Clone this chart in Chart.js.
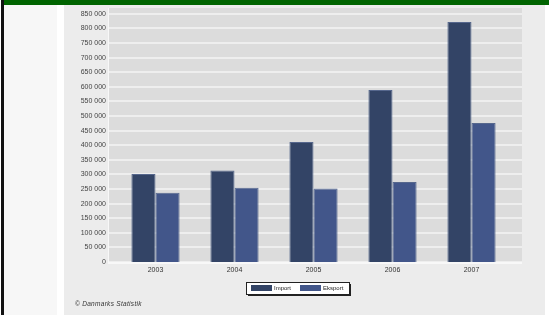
<!DOCTYPE html>
<html>
<head>
<meta charset="utf-8">
<script src="https://cdn.jsdelivr.net/npm/chart.js@4"></script>
<style>
  html, body { margin: 0; padding: 0; }
  body { width: 549px; height: 315px; position: relative; overflow: hidden; background: #fff; font-family: "Liberation Sans", Arial, sans-serif; }
  #leftline { position: absolute; left: 1px; top: 0; width: 3px; height: 315px; background: #111; }
  #topbar { position: absolute; left: 4px; top: 0; width: 545px; height: 5px; background: #006400; }
  #side { position: absolute; left: 4px; top: 5px; width: 53px; height: 310px; background: #f7f7f7; }
  #panel { position: absolute; left: 64px; top: 5px; width: 481px; height: 310px; background: #ececec; }
  #chart { position: absolute; left: 0; top: 0; }
  #source { position: absolute; left: 75px; top: 300px; font-size: 6.5px; letter-spacing: 0.3px; font-style: italic; color: #333; }
</style>
</head>
<body>
<div id="leftline"></div>
<div id="topbar"></div>
<div id="side"></div>
<div id="panel"></div>
<canvas id="chart" width="549" height="315"></canvas>
<div id="source">© Danmarks Statistik</div>
<script>
const years   = ["2003", "2004", "2005", "2006", "2007"]
const imports = [301000, 313000, 411000, 589000, 822000]
const exports = [237000, 254000, 252000, 274000, 476000]
const yTicks  = [0, 50000, 100000, 150000, 200000, 250000, 300000, 350000, 400000,
                 450000, 500000, 550000, 600000, 650000, 700000, 750000, 800000, 850000]

// the grey plot panel reaches a bit past the category band on both sides
const PANEL_LEFT = 8, PANEL_RIGHT = 11

const plotBackground = {
  id: "plotBackground",
  beforeDatasetsDraw(chart) {
    const { ctx, chartArea: a, scales } = chart
    const left = a.left - PANEL_LEFT, right = a.right + PANEL_RIGHT
    ctx.save()
    ctx.fillStyle = "#dcdcdc"
    ctx.fillRect(left, a.top, right - left, a.bottom - a.top)
    ctx.strokeStyle = "#f4f4f4"
    ctx.lineWidth = 1.5
    scales.y.ticks.forEach((t) => {
      const y = Math.round(scales.y.getPixelForValue(t.value))
      ctx.beginPath()
      ctx.moveTo(left, y)
      ctx.lineTo(right, y)
      ctx.stroke()
    })
    ctx.strokeStyle = "#f8f8f8"
    ctx.lineWidth = 1
    ctx.beginPath()
    ctx.moveTo(left + 0.5, a.top)
    ctx.lineTo(left + 0.5, a.bottom)
    ctx.stroke()
    ctx.lineWidth = 2
    ctx.beginPath()
    ctx.moveTo(left, a.bottom + 1)
    ctx.lineTo(right, a.bottom + 1)
    ctx.stroke()
    ctx.restore()
  },
}

// boxed legend below the plot, with a small drop shadow
const boxLegend = {
  id: "boxLegend",
  afterDraw(chart) {
    const { ctx } = chart
    const x = 246, y = 282, w = 103, h = 12
    ctx.save()
    ctx.fillStyle = "#222"
    ctx.fillRect(x + 2, y + 2, w, h)
    ctx.fillStyle = "#fff"
    ctx.fillRect(x, y, w, h)
    ctx.strokeStyle = "#222"
    ctx.lineWidth = 1
    ctx.strokeRect(x + 0.5, y + 0.5, w, h)
    ctx.font = "6px 'Liberation Sans', Arial, sans-serif"
    ctx.textBaseline = "middle"
    let cx = x + 5
    chart.data.datasets.forEach((ds) => {
      ctx.fillStyle = ds.backgroundColor
      ctx.fillRect(cx, y + 3, 21, 6)
      ctx.fillStyle = "#222"
      ctx.fillText(ds.label, cx + 23, y + 6.5)
      cx += 49
    })
    ctx.restore()
  },
}

new Chart(document.getElementById("chart"), {
  type: "bar",
  data: {
    labels: years,
    datasets: [
      { label: "Import",  data: imports, backgroundColor: "#334466", borderColor: "#56678d", borderWidth: 1 },
      { label: "Eksport", data: exports, backgroundColor: "#42568a", borderColor: "#56678d", borderWidth: 1 },
    ],
  },
  options: {
    responsive: false,
    animation: false,
    layout: { padding: { left: 0, top: 8, right: 38, bottom: 39 } },
    datasets: { bar: { categoryPercentage: 0.61, barPercentage: 1.0 } },
    scales: {
      x: {
        afterFit: (s) => { s.height = 14 },
        grid: { display: false, drawTicks: false },
        border: { display: false },
        ticks: { color: "#333", padding: 4, font: { size: 7, family: "'Liberation Sans', Arial, sans-serif" } },
      },
      y: {
        min: 0,
        max: 870000,
        afterFit: (s) => { s.width = 116; s.paddingTop = 0; s.paddingBottom = 0 },
        afterBuildTicks: (s) => { s.ticks = yTicks.map((v) => ({ value: v })) },
        grid: { display: false, drawTicks: false },
        border: { display: false },
        ticks: {
          color: "#444",
          padding: 10,
          font: { size: 7, family: "'Liberation Sans', Arial, sans-serif" },
          callback: (v) => v === 0 ? "0" : v.toLocaleString("en-US").replace(/,/g, " "),
        },
      },
    },
    plugins: {
      legend: { display: false },
      tooltip: { enabled: false },
    },
  },
  plugins: [plotBackground, boxLegend],
})
</script>
</body>
</html>
